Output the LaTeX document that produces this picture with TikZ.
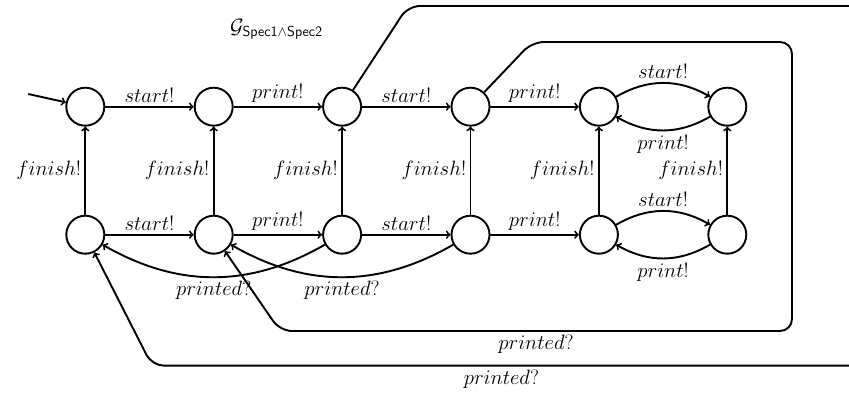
\documentclass[tikz,border=0pt]{standalone}
\begin{document}
\begin{tikzpicture}[x=1pt,y=1pt,
  every node/.style={font=\fontsize{20.74}{25}\selectfont},
  state/.style={circle,draw,line width=1.9pt,minimum size=38pt,inner sep=0pt},
  edge/.style={->,line width=1.9pt},
  bigpath/.style={->,line width=1.9pt,rounded corners=12pt},
]
\useasboundingbox (0,0) rectangle (849,398);

% states
\node[state] (n1) at (85.3,291.3) {};
\node[state] (n2) at (213.7,291.3) {};
\node[state] (n3) at (342.1,291.3) {};
\node[state] (n4) at (470.5,291.3) {};
\node[state] (n5) at (598.9,291.3) {};
\node[state] (n6) at (727.3,291.3) {};
\node[state] (m1) at (85.3,163.3) {};
\node[state] (m2) at (213.7,163.3) {};
\node[state] (m3) at (342.1,163.3) {};
\node[state] (m4) at (470.5,163.3) {};
\node[state] (m5) at (598.9,163.3) {};
\node[state] (m6) at (727.3,163.3) {};

\node (title) at (276.5,369) {$\mathcal{G}_{\mathsf{Spec1}\wedge\mathsf{Spec2}}$};

% initial
\coordinate (init) at (28.3,304);
\draw[edge] (init) -- (n1);

% top row
\draw[edge] (n1) -- node[above]{$start!$} (n2);
\draw[edge] (n2) -- node[above]{$print!$} (n3);
\draw[edge] (n3) -- node[above]{$start!$} (n4);
\draw[edge] (n4) -- node[above]{$print!$} (n5);
\draw[edge] (n5) to[bend left=30] node[above]{$start!$} (n6);
\draw[edge] (n6) to[bend left=30] node[below]{$print!$} (n5);

% bottom row
\draw[edge] (m1) -- node[above]{$start!$} (m2);
\draw[edge] (m2) -- node[above]{$print!$} (m3);
\draw[edge] (m3) -- node[above]{$start!$} (m4);
\draw[edge] (m4) -- node[above]{$print!$} (m5);
\draw[edge] (m5) to[bend left=30] node[above]{$start!$} (m6);
\draw[edge] (m6) to[bend left=30] node[below]{$print!$} (m5);

% verticals
\foreach \i in {1,...,6}{
  \draw[edge] (m\i) -- node[left]{$finish!$} (n\i);
}

% printed curves
\draw[edge] (m3) to[out=210,in=-30] node[below]{$printed?$} (m1);
\draw[edge] (m4) to[out=210,in=-30] node[below]{$printed?$} (m2);

% big paths
\coordinate (a1) at (408,392);
\coordinate (a2) at (880,392);
\coordinate (a3) at (880,32.3);
\coordinate (a4) at (152,32.3);
\draw[bigpath] (n3) -- (a1) -- (a2) -- (a3) -- node[below,pos=0.52]{$printed?$} (a4) -- (m1);

\coordinate (b1) at (532,356);
\coordinate (b2) at (792,356);
\coordinate (b3) at (792,67);
\coordinate (b4) at (280,67);
\draw[bigpath] (n4) -- (b1) -- (b2) -- (b3) -- node[below]{$printed?$} (b4) -- (m2);
\end{tikzpicture}
\end{document}
